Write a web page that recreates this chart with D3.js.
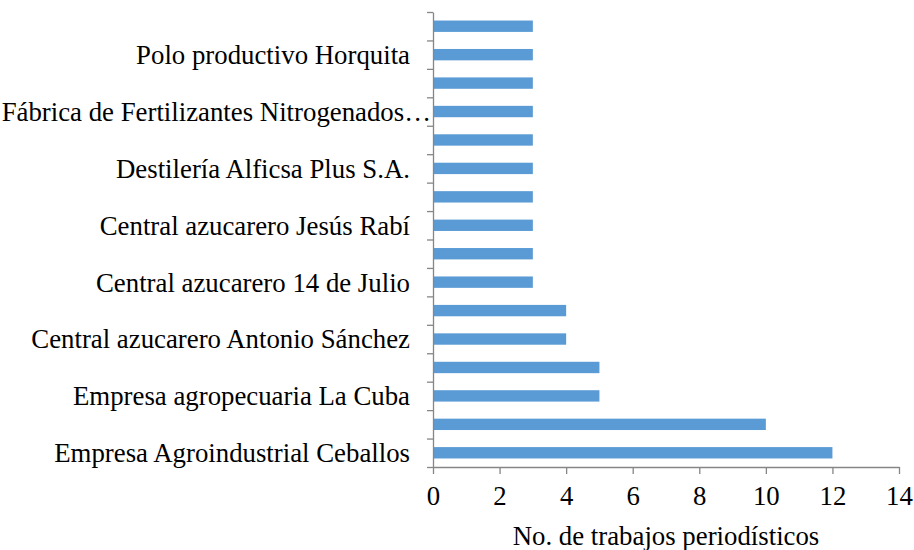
<!DOCTYPE html>
<html>
<head>
    <meta charset='UTF-8'>
    <title>Trabajos periodísticos por entidad</title>
    <script src='https://cdn.jsdelivr.net/npm/d3@7'></script>
    <style>
        body { margin: 0; background: #fff; }
        .axis path, .axis line { stroke: #868686; stroke-width: 1.3; }
        .bar { fill: #5b9bd5; }
    </style>
</head>
<body>
<script>
    // categories listed top to bottom; blank ones have no visible label in the source
    const categories = [
        '', 'Polo productivo Horquita', '', 'Fábrica de Fertilizantes Nitrogenados…',
        '', 'Destilería Alficsa Plus S.A.', '', 'Central azucarero Jesús Rabí',
        '', 'Central azucarero 14 de Julio', '', 'Central azucarero Antonio Sánchez',
        '', 'Empresa agropecuaria La Cuba', '', 'Empresa Agroindustrial Ceballos'
    ];
    const values = [3, 3, 3, 3, 3, 3, 3, 3, 3, 3, 4, 4, 5, 5, 10, 12];
    const xTicks = [0, 2, 4, 6, 8, 10, 12, 14];
    const xTitle = 'No. de trabajos periodísticos';

    const font = 'Liberation Serif';
    const fontSize = '26.8px';
    const width = 914, height = 550;
    const margin = { top: 12, right: 15, bottom: 83, left: 433 };
    const w = width - margin.left - margin.right;
    const h = height - margin.top - margin.bottom;

    const svg = d3.select('body').append('svg')
        .attr('width', width)
        .attr('height', height);

    const g = svg.append('g').attr('transform', `translate(${margin.left}, ${margin.top})`);

    const idx = d3.range(categories.length);

    const x = d3.scaleLinear().domain([0, 14]).range([0, w]);
    const y = d3.scaleBand().domain(idx).range([0, h]).paddingInner(0.6).paddingOuter(0.3);
    const yEdge = d3.scaleLinear().domain([0, categories.length]).range([0, h]);

    g.selectAll('.bar')
        .data(idx)
        .enter().append('rect')
        .attr('class', 'bar')
        .attr('x', 0)
        .attr('y', i => y(i))
        .attr('width', i => x(values[i]))
        .attr('height', y.bandwidth());

    // x axis
    const xAxis = g.append('g')
        .attr('class', 'axis')
        .attr('transform', `translate(0, ${h})`)
        .call(d3.axisBottom(x).tickValues(xTicks).tickSize(7).tickSizeOuter(0).tickPadding(12));
    xAxis.selectAll('text')
        .style('font-family', font)
        .style('font-size', fontSize)
        .attr('fill', '#000');

    // y axis: ticks on the category boundaries
    g.append('g')
        .attr('class', 'axis')
        .call(d3.axisLeft(yEdge).tickValues(d3.range(categories.length + 1)).tickSize(6).tickSizeOuter(0).tickFormat(''));

    g.selectAll('.cat')
        .data(idx.filter(i => categories[i] !== ''))
        .enter().append('text')
        .attr('class', 'cat')
        .attr('x', i => categories[i].endsWith('…') ? -2 : -23)
        .attr('y', i => y(i) + y.bandwidth() / 2)
        .attr('dy', '0.35em')
        .attr('text-anchor', 'end')
        .style('font-family', font)
        .style('font-size', fontSize)
        .text(i => categories[i]);

    svg.append('text')
        .attr('x', margin.left + w / 2)
        .attr('y', height - 5)
        .attr('text-anchor', 'middle')
        .style('font-family', font)
        .style('font-size', fontSize)
        .text(xTitle);
</script>
</body>
</html>
